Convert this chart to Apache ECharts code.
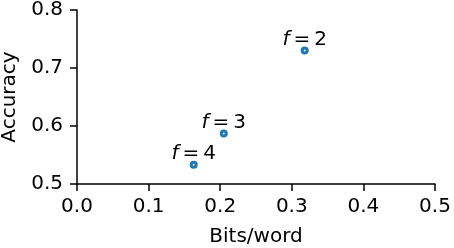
<!DOCTYPE html>
<html><head><meta charset="utf-8">
<script src="https://cdn.jsdelivr.net/npm/echarts@6/dist/echarts.min.js"></script>
<style>html,body{margin:0;padding:0;background:#fff}#c{width:454px;height:248px}</style>
</head><body><div id="c"></div>
<script>
const bitsPerWord = [0.318, 0.205, 0.163];
const accuracy = [0.730, 0.587, 0.533];
const fValues = [2, 3, 4];
const xTicks = [0.0, 0.1, 0.2, 0.3, 0.4, 0.5];
const yTicks = [0.5, 0.6, 0.7, 0.8];

const chart = echarts.init(document.getElementById('c'));
const font = 'DejaVu Sans';
const data = bitsPerWord.map((x, i) => ({value: [x, accuracy[i]], f: fValues[i]}));
chart.setOption({
  animation: false,
  textStyle: {fontFamily: font},
  grid: {left: 77, right: 19, top: 10, bottom: 64, outerBoundsMode: 'none', containLabel: false},
  xAxis: {
    type: 'value', min: xTicks[0], max: xTicks[xTicks.length-1], interval: 0.1,
    name: 'Bits/word', nameLocation: 'middle', nameGap: 43,
    nameTextStyle: {fontSize: 20, color: '#000', fontFamily: font},
    axisLine: {onZero: false, lineStyle: {color: '#000', width: 1.5}},
    axisTick: {show: true, length: 7, lineStyle: {color: '#000', width: 1.5}},
    axisLabel: {fontSize: 20, color: '#000', margin: 13, fontFamily: font, formatter: v => v.toFixed(1)},
    splitLine: {show: false}
  },
  yAxis: {
    type: 'value', min: yTicks[0], max: yTicks[yTicks.length-1], interval: 0.1,
    name: 'Accuracy', nameLocation: 'middle', nameGap: 50,
    nameTextStyle: {fontSize: 20, color: '#000', fontFamily: font},
    axisLine: {show: true, onZero: false, lineStyle: {color: '#000', width: 1.5}},
    axisTick: {show: true, length: 7, lineStyle: {color: '#000', width: 1.5}},
    axisLabel: {fontSize: 20, color: '#000', margin: 14, fontFamily: font, formatter: v => v.toFixed(1)},
    splitLine: {show: false}
  },
  series: [{
    type: 'scatter', data: data, symbol: 'circle', symbolSize: 8,
    itemStyle: {color: '#1f77b4', opacity: 1},
    label: {
      show: true, position: 'top', distance: -3, color: '#000',
      formatter: p => '{i|f}{n|\u2009=\u2009' + p.data.f + '}',
      rich: {
        i: {fontStyle: 'italic', fontSize: 20, color: '#000', fontFamily: font},
        n: {fontSize: 20, color: '#000', fontFamily: font}
      }
    }
  }, {
    type: 'scatter', data: data.map(d => d.value), symbolSize: 2,
    itemStyle: {color: '#e8f0f8', opacity: 1}, silent: true, z: 3
  }]
});
</script></body></html>
